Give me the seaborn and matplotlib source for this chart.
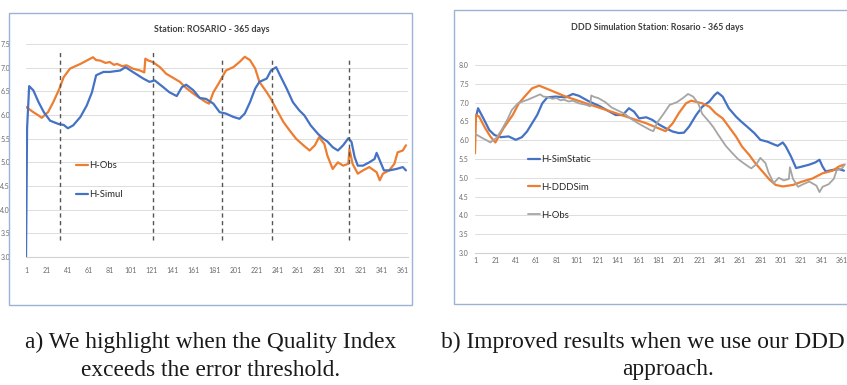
import matplotlib
matplotlib.use("Agg")
import matplotlib.pyplot as plt
from matplotlib.patches import Rectangle
import seaborn as sns

# ---- data ----
obs_days = [1, 8, 13, 16, 18, 22, 27, 33, 37, 43, 53, 59, 65, 68, 72, 77, 81, 85, 88, 93, 97,
            103, 110, 114, 115, 118, 122, 129, 135, 142, 148, 154, 161, 167, 173, 176, 180,
            186, 192, 199, 205, 210, 215, 220, 224, 231, 235, 240, 247, 253, 259, 266, 272,
            277, 281, 286, 289, 294, 299, 304, 309, 310, 313, 318, 323, 329, 336, 339, 342,
            348, 353, 356, 361, 364]
obs_vals = [6.17, 6.06, 5.99, 5.94, 5.98, 6.06, 6.27, 6.56, 6.80, 6.98, 7.08, 7.15, 7.22, 7.16,
            7.15, 7.10, 7.12, 7.06, 7.08, 7.03, 7.05, 6.98, 6.94, 6.90, 7.19, 7.15, 7.12, 7.01,
            6.87, 6.78, 6.70, 6.57, 6.45, 6.36, 6.27, 6.24, 6.48, 6.70, 6.94, 7.01, 7.12,
            7.23, 7.16, 6.98, 6.70, 6.48, 6.34, 6.13, 5.85, 5.67, 5.50, 5.36, 5.25, 5.36,
            5.53, 5.39, 5.14, 4.86, 5.00, 4.93, 4.97, 5.28, 4.97, 4.76, 4.83, 4.90, 4.79,
            4.62, 4.76, 4.83, 4.97, 5.21, 5.25, 5.36]

simul_days = [1, 2, 4, 8, 13, 18, 24, 32, 37, 41, 46, 53, 59, 64, 68, 75, 81, 91, 96, 103, 113,
              119, 124, 132, 138, 145, 150, 154, 161, 167, 173, 180, 186, 192, 199, 205, 210,
              215, 220, 224, 231, 235, 240, 243, 250, 256, 262, 267, 273, 280, 285, 289, 294,
              299, 304, 309, 312, 315, 318, 323, 329, 334, 336, 339, 343, 348, 355, 361, 364]
simul_vals = [3.0, 5.71, 6.61, 6.52, 6.27, 6.06, 5.88, 5.81, 5.79, 5.72, 5.78, 5.96, 6.20, 6.48,
              6.84, 6.91, 6.91, 6.94, 7.01, 6.91, 6.77, 6.70, 6.73, 6.59, 6.48, 6.40, 6.59,
              6.64, 6.52, 6.36, 6.34, 6.24, 6.06, 6.03, 5.96, 5.92, 6.03, 6.27, 6.56, 6.70,
              6.77, 6.94, 7.01, 6.87, 6.56, 6.27, 6.10, 5.99, 5.78, 5.60, 5.50, 5.44, 5.32,
              5.25, 5.36, 5.51, 5.43, 5.11, 4.93, 4.93, 5.00, 5.07, 5.20, 5.04, 4.83, 4.83,
              4.86, 4.90, 4.83]

# days where the quality index exceeds the threshold
event_days = [33, 122, 188, 236, 310]
event_tops = [7.33, 7.37, 7.19, 7.16, 7.20]
event_bottom = 3.35

static_days = [1, 4, 10, 15, 20, 26, 34, 41, 47, 52, 57, 62, 67, 72, 80, 90, 97, 103, 113, 123,
               133, 139, 146, 152, 157, 162, 169, 175, 182, 188, 195, 201, 206, 211, 218, 224,
               231, 236, 239, 244, 250, 257, 262, 268, 275, 281, 288, 295, 298, 303, 306, 311,
               316, 322, 329, 335, 339, 342, 345, 352, 358, 363]
static_vals = [6.50, 6.85, 6.54, 6.27, 6.14, 6.08, 6.10, 6.01, 6.08, 6.23, 6.45, 6.67, 6.98,
               7.14, 7.16, 7.14, 7.23, 7.18, 7.03, 6.91, 6.76, 6.67, 6.67, 6.85, 6.76, 6.58,
               6.61, 6.54, 6.41, 6.32, 6.23, 6.19, 6.20, 6.36, 6.67, 6.89, 7.03, 7.20, 7.27,
               7.16, 6.85, 6.63, 6.50, 6.36, 6.19, 6.01, 5.96, 5.88, 5.85, 5.94, 5.83, 5.57,
               5.26, 5.30, 5.35, 5.41, 5.48, 5.30, 5.17, 5.21, 5.23, 5.19]

ddd_days = [1, 2, 5, 11, 16, 21, 29, 38, 44, 51, 57, 64, 74, 90, 110, 129, 149, 169, 188, 195,
            201, 208, 213, 218, 224, 231, 237, 244, 250, 257, 263, 270, 276, 283, 290, 296,
            303, 313, 322, 332, 342, 352, 358, 363]
ddd_vals = [5.65, 6.67, 6.63, 6.32, 6.10, 5.94, 6.32, 6.67, 6.98, 7.20, 7.38, 7.45, 7.34, 7.16,
            6.98, 6.81, 6.63, 6.45, 6.24, 6.45, 6.72, 6.98, 7.05, 7.02, 6.98, 6.89, 6.72,
            6.58, 6.36, 6.10, 5.83, 5.61, 5.39, 5.17, 4.95, 4.81, 4.77, 4.81, 4.90, 4.98,
            5.12, 5.19, 5.30, 5.35]

xtick_days = list(range(1, 366, 20))

orange = "#ED7D31"
blue = "#4472C4"
gray = "#A5A5A5"

sns.set_style("white")
plt.rcParams["font.family"] = ["Lato", "DejaVu Sans"]

fig = plt.figure(figsize=(8.47, 3.85), dpi=100)
W, H = 847, 385


def box(x0, y0, x1, y1):
    fig.patches.append(Rectangle((x0 / W, 1 - y1 / H), (x1 - x0) / W, (y1 - y0) / H,
                                 transform=fig.transFigure, fill=False,
                                 edgecolor="#9DB3D6", linewidth=1.0))


def style_axes(ax, ymin, ymax, xpad, ypad):
    ax.set_xlim(0.5, 365.5)
    ax.set_ylim(ymin, ymax)
    ax.set_yticks([ymin + 0.5 * i for i in range(int(round((ymax - ymin) / 0.5)) + 1)])
    ax.set_yticklabels([f"{v:.1f}" for v in ax.get_yticks()])
    ax.set_xticks(xtick_days)
    ax.set_xticklabels([str(d) for d in xtick_days])
    ax.grid(axis="y", color="#DDDDDD", linewidth=0.7)
    ax.set_axisbelow(True)
    for s in ["top", "right", "left"]:
        ax.spines[s].set_visible(False)
    ax.spines["bottom"].set_color("#D0D0D0")
    ax.spines["bottom"].set_linewidth(0.8)
    ax.tick_params(axis="x", length=0, pad=xpad, labelsize=5, labelcolor="#6A6A6A")
    ax.tick_params(axis="y", length=0, pad=ypad, labelsize=5, labelcolor="#6A6A6A")
    ax.set_xlabel("")
    ax.set_ylabel("")


# ---- left chart ----
box(9, 13, 412, 305)
ax1 = fig.add_axes([25.5 / W, 1 - 257 / H, 382 / W, 213 / H])
sns.lineplot(x=obs_days, y=obs_vals, ax=ax1, color=orange, linewidth=1.6, label="H-Obs")
sns.lineplot(x=simul_days, y=simul_vals, ax=ax1, color=blue, linewidth=1.6, label="H-Simul")
for d, top in zip(event_days, event_tops):
    ax1.plot([d, d], [event_bottom, top], color="#555555", linestyle=(0, (3, 2.5)),
             linewidth=1.0)
style_axes(ax1, 3.0, 7.5, 7, 11)
ax1.legend(loc="center left", bbox_to_anchor=(0.11, 0.36), frameon=False, fontsize=6.8,
           handlelength=1.3, handletextpad=0.1, labelspacing=2.1)
fig.text(212 / W, 1 - 30 / H, "Station: ROSARIO - 365 days", ha="center", va="center",
         fontsize=6.4, fontweight="bold", color="#404040")

# ---- right chart ----
box(454, 10, 860, 304)
ax2 = fig.add_axes([474.5 / W, 1 - 253 / H, 372 / W, 188 / H])
sns.lineplot(x=static_days, y=static_vals, ax=ax2, color=blue, linewidth=1.6,
             label="H-SimStatic")
sns.lineplot(x=ddd_days, y=ddd_vals, ax=ax2, color=orange, linewidth=1.6, label="H-DDDSim")
sns.lineplot(x=obs_days, y=obs_vals, ax=ax2, color=gray, linewidth=1.3, label="H-Obs")
style_axes(ax2, 3.0, 8.0, 3, 4)
ax2.legend(loc="center left", bbox_to_anchor=(0.12, 0.35), frameon=False, fontsize=6.8,
           handlelength=1.3, handletextpad=0.1, labelspacing=2.0)
fig.text(657 / W, 1 - 28 / H, "DDD Simulation Station: Rosario - 365 days", ha="center",
         va="center", fontsize=6.4, fontweight="bold", color="#404040")

# ---- captions ----
cap = dict(ha="center", va="center", fontsize=16.8, family="Liberation Serif", color="#1a1a1a")
fig.text(211 / W, 1 - 342 / H, "a) We highlight when the Quality Index", **cap)
fig.text(211 / W, 1 - 370 / H, "exceeds the error threshold.", **cap)
fig.text(441 / W, 1 - 342 / H, "b) Improved results when we use our DDD",
         ha="left", va="center", fontsize=16.8, family="Liberation Serif", color="#1a1a1a")
fig.text(668 / W, 1 - 370 / H, "approach.", **cap)

fig.savefig("out.png", dpi=100)
